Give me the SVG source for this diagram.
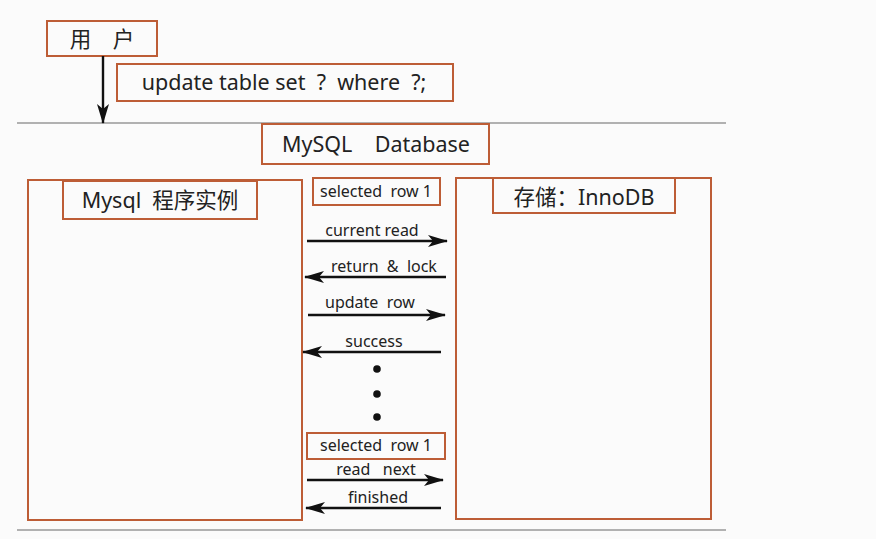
<svg xmlns="http://www.w3.org/2000/svg" width="876" height="539" viewBox="0 0 876 539">
<style>
.box{fill:none;stroke:#bd5d36;stroke-width:2}
.t{font-family:"Noto Sans","Noto Sans CJK SC",sans-serif;fill:#222;text-anchor:middle}
.big{font-size:21.5px}
.sm{font-size:16px}
.c{stroke:#111;stroke-width:2.4;fill:none}
.sep{stroke:#999;stroke-width:1.5}
</style>
<defs>
<marker id="ah" viewBox="0 0 20 12" refX="19" refY="6" markerWidth="20" markerHeight="12" markerUnits="userSpaceOnUse" orient="auto">
<path d="M0,0 L20,6 L0,12 L5,6 Z" fill="#111"/>
</marker>
</defs>
<rect width="876" height="539" fill="#fbfbfb"/>
<line class="sep" x1="17" y1="123" x2="726" y2="123"/>
<line class="sep" x1="17" y1="530" x2="726" y2="530"/>
<g id="user"><rect class="box" x="47" y="21" width="110" height="35"/><text class="t big" x="102" y="47">用　户</text></g>
<g id="query"><rect class="box" x="117" y="64" width="336" height="37"/><text class="t big" x="284" y="90" xml:space="preserve">update table set  ?  where  ?;</text></g>
<g id="mysqldb"><rect class="box" x="262" y="124" width="227" height="40"/><text class="t big" x="376" y="152" xml:space="preserve">MySQL    Database</text></g>
<g id="mysql"><rect class="box" x="28" y="180" width="274" height="340"/><rect class="box" x="63" y="181" width="194" height="38"/><text class="t big" x="160" y="208" xml:space="preserve">Mysql  程序实例</text></g>
<g id="innodb"><rect class="box" x="456" y="178" width="255" height="341"/><rect class="box" x="493" y="178" width="182" height="35"/><text class="t big" x="584" y="205">存储：InnoDB</text></g>
<g id="sel1"><rect class="box" x="313" y="178" width="127" height="27"/><text class="t sm" x="376" y="197" xml:space="preserve">selected  row 1</text></g>
<g id="sel2"><rect class="box" x="307" y="433" width="138" height="26"/><text class="t sm" x="376" y="451" xml:space="preserve">selected  row 1</text></g>
<g id="connectors">
<line class="c" x1="103" y1="56" x2="103" y2="123" marker-end="url(#ah)"/>
<line class="c" x1="307" y1="241" x2="447" y2="241" marker-end="url(#ah)"/>
<line class="c" x1="446" y1="277" x2="305" y2="277" marker-end="url(#ah)"/>
<line class="c" x1="308" y1="315" x2="445" y2="315" marker-end="url(#ah)"/>
<line class="c" x1="441" y1="352" x2="303" y2="352" marker-end="url(#ah)"/>
<line class="c" x1="307" y1="480" x2="443" y2="480" marker-end="url(#ah)"/>
<line class="c" x1="441" y1="508" x2="306" y2="508" marker-end="url(#ah)"/>
</g>
<g id="labels">
<text class="t sm" x="372" y="236">current read</text>
<text class="t sm" x="384" y="272" xml:space="preserve">return  &amp;  lock</text>
<text class="t sm" x="370" y="308" xml:space="preserve">update  row</text>
<text class="t sm" x="374" y="347">success</text>
<text class="t sm" x="376" y="475" xml:space="preserve">read   next</text>
<text class="t sm" x="378" y="503">finished</text>
</g>
<g id="dots" fill="#111">
<circle cx="377" cy="369" r="3.8"/><circle cx="377" cy="394" r="3.8"/><circle cx="377" cy="417" r="3.8"/>
</g>
</svg>
